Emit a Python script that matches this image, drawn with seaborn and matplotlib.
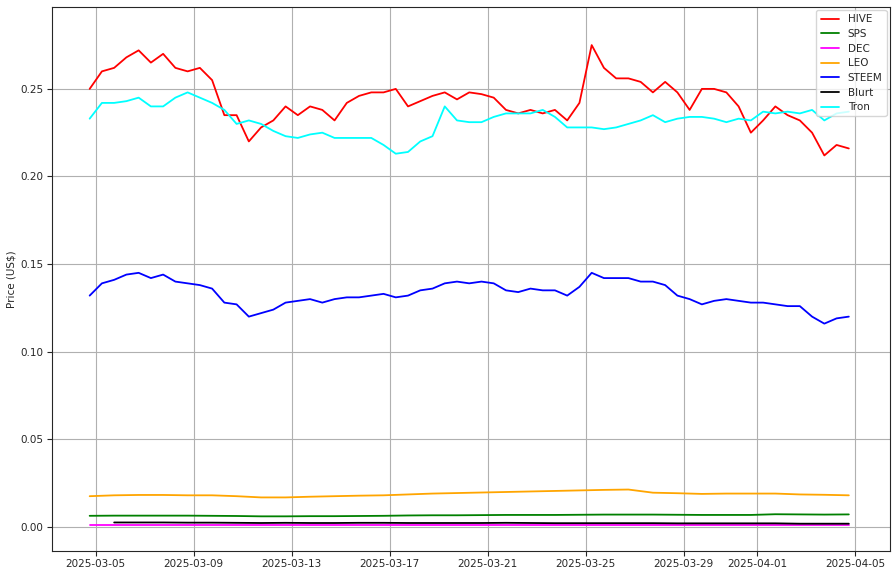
import numpy as np
import pandas as pd
import matplotlib
matplotlib.use("Agg")
import matplotlib.pyplot as plt
import seaborn as sns

sns.set_style("ticks")

# 12-hourly grid for the big movers
t_half = pd.date_range("2025-03-04 18:00", "2025-04-04 18:00", freq="12h")
hive = [0.250, 0.260, 0.262, 0.268, 0.272, 0.265, 0.270, 0.262, 0.260, 0.262,
        0.255, 0.235, 0.235, 0.220, 0.228, 0.232, 0.240, 0.235, 0.240, 0.238,
        0.232, 0.242, 0.246, 0.248, 0.248, 0.250, 0.240, 0.243, 0.246, 0.248,
        0.244, 0.248, 0.247, 0.245, 0.238, 0.236, 0.238, 0.236, 0.238, 0.232,
        0.242, 0.275, 0.262, 0.256, 0.256, 0.254, 0.248, 0.254, 0.248, 0.238,
        0.250, 0.250, 0.248, 0.240, 0.225, 0.232, 0.240, 0.235, 0.232, 0.225,
        0.212, 0.218, 0.216]
tron = [0.233, 0.242, 0.242, 0.243, 0.245, 0.240, 0.240, 0.245, 0.248, 0.245,
        0.242, 0.238, 0.230, 0.232, 0.230, 0.226, 0.223, 0.222, 0.224, 0.225,
        0.222, 0.222, 0.222, 0.222, 0.218, 0.213, 0.214, 0.220, 0.223, 0.240,
        0.232, 0.231, 0.231, 0.234, 0.236, 0.236, 0.236, 0.238, 0.234, 0.228,
        0.228, 0.228, 0.227, 0.228, 0.230, 0.232, 0.235, 0.231, 0.233, 0.234,
        0.234, 0.233, 0.231, 0.233, 0.232, 0.237, 0.236, 0.237, 0.236, 0.238,
        0.232, 0.236, 0.237]
steem = [0.132, 0.139, 0.141, 0.144, 0.145, 0.142, 0.144, 0.140, 0.139, 0.138,
         0.136, 0.128, 0.127, 0.120, 0.122, 0.124, 0.128, 0.129, 0.130, 0.128,
         0.130, 0.131, 0.131, 0.132, 0.133, 0.131, 0.132, 0.135, 0.136, 0.139,
         0.140, 0.139, 0.140, 0.139, 0.135, 0.134, 0.136, 0.135, 0.135, 0.132,
         0.137, 0.145, 0.142, 0.142, 0.142, 0.140, 0.140, 0.138, 0.132, 0.130,
         0.127, 0.129, 0.130, 0.129, 0.128, 0.128, 0.127, 0.126, 0.126, 0.120,
         0.116, 0.119, 0.120]

# daily grid for the flat ones
t_day = pd.date_range("2025-03-04 18:00", "2025-04-04 18:00", freq="1D")
sps = [0.0063, 0.0064, 0.0064, 0.0064, 0.0064, 0.0063, 0.0062, 0.0060, 0.0060,
       0.0061, 0.0061, 0.0062, 0.0063, 0.0065, 0.0066, 0.0066, 0.0067, 0.0068,
       0.0068, 0.0068, 0.0069, 0.0070, 0.0070, 0.0070, 0.0069, 0.0068, 0.0068,
       0.0068, 0.0072, 0.0071, 0.0070, 0.0071]
dec = [0.0008] * 32
leo = [0.0175, 0.0180, 0.0182, 0.0182, 0.0180, 0.0180, 0.0175, 0.0168, 0.0168,
       0.0172, 0.0175, 0.0178, 0.0180, 0.0185, 0.0190, 0.0193, 0.0196, 0.0199,
       0.0202, 0.0205, 0.0208, 0.0211, 0.0213, 0.0195, 0.0192, 0.0188, 0.0190,
       0.0190, 0.0190, 0.0185, 0.0183, 0.0180]
blurt = [np.nan, 0.0025, 0.0025, 0.0025, 0.0024, 0.0024, 0.0023, 0.0022, 0.0023,
         0.0022, 0.0022, 0.0023, 0.0023, 0.0022, 0.0022, 0.0022, 0.0022, 0.0023,
         0.0022, 0.0021, 0.0021, 0.0021, 0.0021, 0.0021, 0.0020, 0.0020, 0.0020,
         0.0020, 0.0020, 0.0018, 0.0018, 0.0018]

series = [("HIVE", t_half, hive, "red"),
          ("SPS", t_day, sps, "green"),
          ("DEC", t_day, dec, "magenta"),
          ("LEO", t_day, leo, "orange"),
          ("STEEM", t_half, steem, "blue"),
          ("Blurt", t_day, blurt, "black"),
          ("Tron", t_half, tron, "cyan")]

fig, ax = plt.subplots(figsize=(8.95, 5.75), dpi=100)
for name, t, vals, col in series:
    sns.lineplot(x=t, y=vals, ax=ax, color=col, label=name, lw=1.3)

ax.set_xlim(pd.Timestamp("2025-03-03 05:00"), pd.Timestamp("2025-04-06 10:00"))
ax.set_ylim(-0.0137, 0.2968)
ax.set_xticks(pd.to_datetime(["2025-03-05", "2025-03-09", "2025-03-13", "2025-03-17",
                              "2025-03-21", "2025-03-25", "2025-03-29", "2025-04-01",
                              "2025-04-05"]))
ax.xaxis.set_major_formatter(matplotlib.dates.DateFormatter("%Y-%m-%d"))
ax.tick_params(labelsize=7.5, pad=2.5)
ax.grid(True, color="#b0b0b0", lw=0.8)
ax.set_ylabel("Price (US$)", fontsize=7.5, labelpad=3)
ax.legend(loc="upper right", fontsize=7.5, framealpha=0.8, handlelength=1.8,
          labelspacing=0.45, borderaxespad=0.3)
fig.subplots_adjust(left=0.058, right=0.994, top=0.988, bottom=0.042)
fig.savefig("out.png", dpi=100)
